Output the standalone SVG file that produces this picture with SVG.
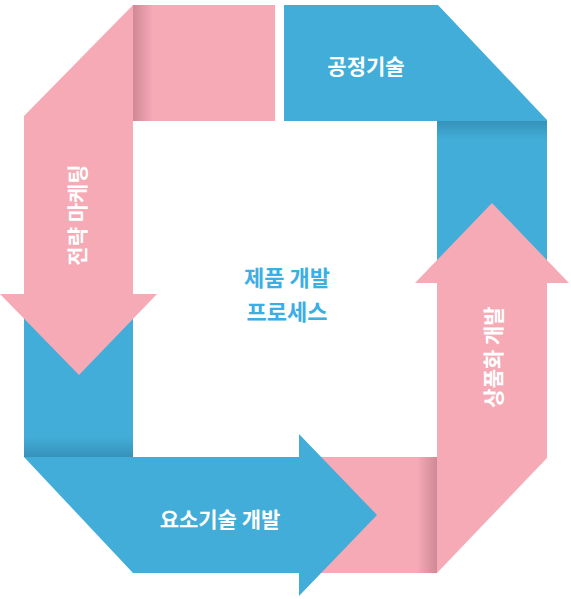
<svg xmlns="http://www.w3.org/2000/svg" width="571" height="599" viewBox="0 0 571 599">
<defs>
<style>
.pink{fill:#F5AAB6}
.blue{fill:#42ADD8}
.lbl{font-family:"Noto Sans CJK KR","Noto Sans",sans-serif;font-weight:bold;font-size:21px;fill:#FFFFFF;text-anchor:middle}
.ctr{font-family:"Noto Sans CJK KR","Noto Sans",sans-serif;font-weight:bold;font-size:22px;fill:#3DAEE3;text-anchor:middle}
</style>
<linearGradient id="shL" x1="0" y1="0" x2="1" y2="0">
<stop offset="0" stop-color="#8A4A5A" stop-opacity="0.35"/>
<stop offset="1" stop-color="#8A4A5A" stop-opacity="0"/>
</linearGradient>
<linearGradient id="shR" x1="1" y1="0" x2="0" y2="0">
<stop offset="0" stop-color="#8A4A5A" stop-opacity="0.35"/>
<stop offset="1" stop-color="#8A4A5A" stop-opacity="0"/>
</linearGradient>
<linearGradient id="shT" x1="0" y1="0" x2="0" y2="1">
<stop offset="0" stop-color="#1F5F80" stop-opacity="0.35"/>
<stop offset="1" stop-color="#1F5F80" stop-opacity="0"/>
</linearGradient>
<linearGradient id="shB" x1="0" y1="1" x2="0" y2="0">
<stop offset="0" stop-color="#1F5F80" stop-opacity="0.35"/>
<stop offset="1" stop-color="#1F5F80" stop-opacity="0"/>
</linearGradient>
</defs>
<g id="connectors">
<g id="process-tech">
<polygon class="blue" points="284,5 438,5 547,120 547,300 437,300 437,121 284,121"/>
<rect x="437" y="121" width="110" height="18" fill="url(#shT)"/>
<text class="lbl" x="366" y="74">공정기술</text>
</g>
<g id="commercialization">
<polygon class="pink" points="300,457 437,457 437,283 415,283 492,203 569,283 547,283 547,458 437,573 300,573"/>
<rect x="417" y="457" width="20" height="116" fill="url(#shR)"/>
<text class="lbl" transform="translate(494,357) rotate(-90)" y="7">상품화 개발</text>
</g>
<g id="element-tech">
<polygon class="blue" points="24,290 133,290 133,457 299,457 299,434 377,515 299,596 299,573 133,573 24,457"/>
<rect x="24" y="437" width="109" height="20" fill="url(#shB)"/>
<text class="lbl" x="220" y="527">요소기술 개발</text>
</g>
<g id="strategic-marketing">
<polygon class="pink" points="133,5 275,5 275,121 133,121 133,294 157,294 79,375 0,294 24,294 24,116"/>
<rect x="133" y="5" width="20" height="116" fill="url(#shL)"/>
<text class="lbl" transform="translate(78,215) rotate(-90)" y="7">전략 마케팅</text>
</g>
</g>
<g id="center">
<text class="ctr" x="287" y="286">제품 개발</text>
<text class="ctr" x="287" y="320">프로세스</text>
</g>
</svg>
